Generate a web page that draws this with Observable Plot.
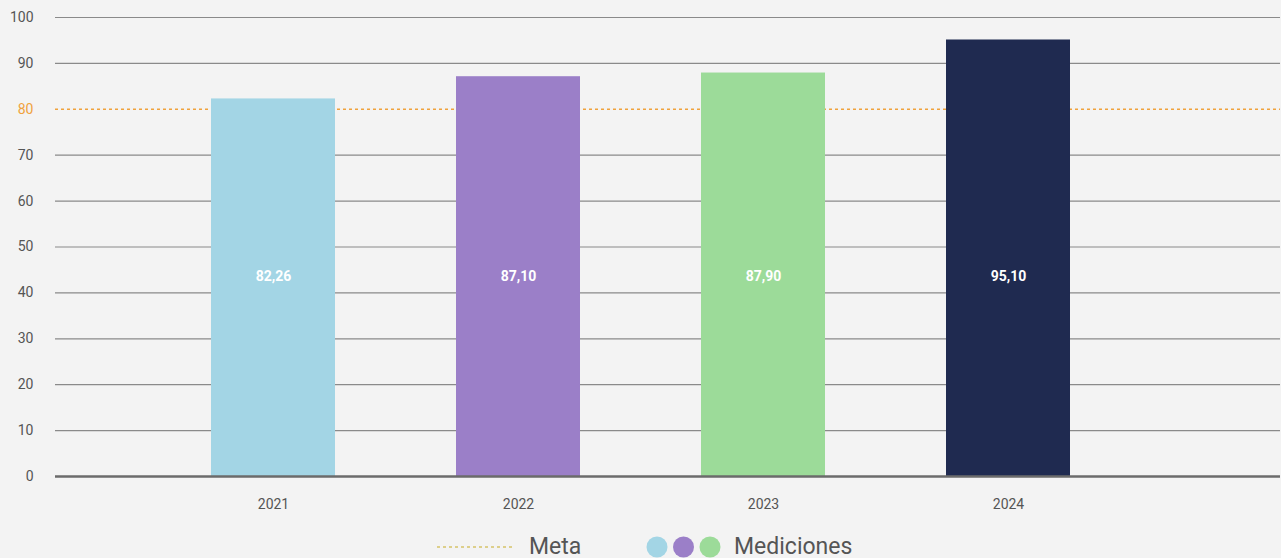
<!DOCTYPE html>
<html>
<head>
<meta charset="utf-8">
<script src="https://cdn.jsdelivr.net/npm/d3@7"></script>
<script src="https://cdn.jsdelivr.net/npm/@observablehq/plot@0.6"></script>
<style>
  html, body { margin: 0; padding: 0; background: #f3f3f3; }
  body { width: 1281px; height: 558px; overflow: hidden; font-family: "Roboto", sans-serif; }
  #legend { position: relative; height: 38px; }
  #legend .item { position: absolute; top: 13px; display: flex; align-items: center; color: #555; font-size: 23px; }
  #legend svg { display: block; }
</style>
</head>
<body>
<div id="chart"></div>
<div id="legend"></div>
<script>
const years = ["2021", "2022", "2023", "2024"];
const values = [82.26, 87.10, 87.90, 95.10];
const labels = ["82,26", "87,10", "87,90", "95,10"];
const colors = ["#a3d5e5", "#9b7fc8", "#9cdb99", "#1f2a50"];
const yTicks = [0, 10, 20, 30, 40, 50, 60, 70, 80, 90, 100];
const meta = 80;

const data = years.map((y, i) => ({year: y, value: values[i], label: labels[i], color: colors[i]}));
const gridTicks = yTicks.filter(t => t !== 0 && t !== meta);

const chart = Plot.plot({
  width: 1281,
  height: 520,
  marginLeft: 55,
  marginRight: 1,
  marginTop: 17,
  marginBottom: 44,
  style: {background: "#f3f3f3", fontFamily: "Roboto, sans-serif"},
  x: {type: "band", domain: years, range: [87, 1194], paddingInner: 0.495, paddingOuter: 0.5, label: null},
  y: {domain: [0, 100], ticks: yTicks, label: null},
  marks: [
    Plot.ruleY(gridTicks, {stroke: "#8a8a8a", strokeWidth: 1.2}),
    Plot.ruleY([meta], {stroke: "#f0a23c", strokeWidth: 1.5, strokeDasharray: "3,3"}),
    Plot.barY(data, {x: "year", y: "value", fill: "color"}),
    Plot.ruleY([0], {stroke: "#6b6b6b", strokeWidth: 2.5}),
    Plot.text(data, {x: "year", text: "label", frameAnchor: "middle", dy: 30, fill: "white", fontWeight: "bold", fontSize: 14}),
    Plot.axisY({ticks: yTicks.filter(t => t !== meta), tickSize: 0, tickPadding: 22, fontSize: 14, color: "#555", label: null}),
    Plot.axisY({ticks: [meta], tickSize: 0, tickPadding: 22, fontSize: 14, color: "#f0a23c", label: null}),
    Plot.axisX({tickSize: 0, tickPadding: 23, fontSize: 14, color: "#555", label: null})
  ]
});
document.getElementById("chart").appendChild(chart);

// legend
const legend = document.getElementById("legend");
const meta_item = document.createElement("div");
meta_item.className = "item";
meta_item.style.left = "437px";
meta_item.innerHTML = '<svg width="78" height="10"><line x1="0" y1="5" x2="76" y2="5" stroke="#d6c36a" stroke-width="1.5" stroke-dasharray="3,3"/></svg><span style="margin-left:14px">Meta</span>';
legend.appendChild(meta_item);
const med_item = document.createElement("div");
med_item.className = "item";
med_item.style.left = "646px";
const circles = colors.slice(0, 3).map((c, i) => `<circle cx="${11 + i * 26.5}" cy="11" r="10.5" fill="${c}"/>`).join("");
med_item.innerHTML = `<svg width="76" height="22">${circles}</svg><span style="margin-left:12px">Mediciones</span>`;
legend.appendChild(med_item);
</script>
</body>
</html>
